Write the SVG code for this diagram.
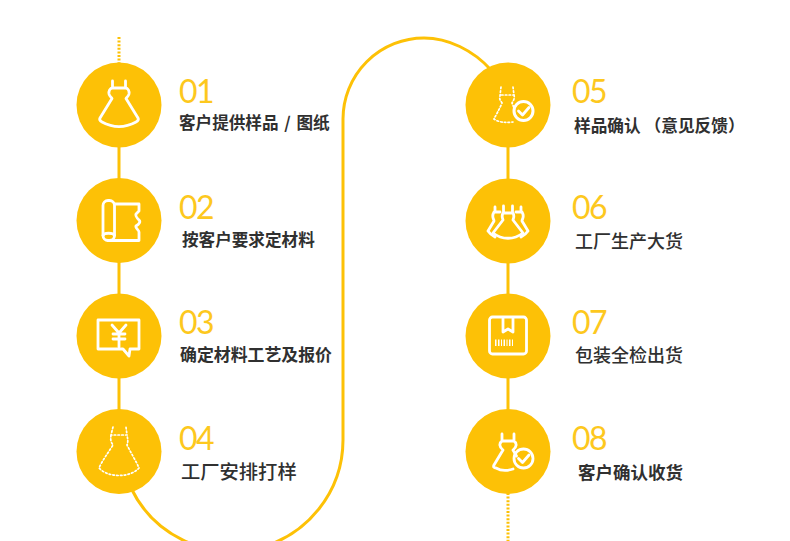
<svg xmlns="http://www.w3.org/2000/svg" width="790" height="541" viewBox="0 0 790 541">
<style>
.c{fill:#fdc106}
.w{fill:none;stroke:#fff;stroke-width:2.800;stroke-linejoin:round;stroke-linecap:round}
.d{fill:none;stroke:#fff;stroke-width:1.700;stroke-dasharray:1.600 2.200;stroke-linecap:round}
.n{font-family:"Lato","Open Sans",sans-serif;font-weight:400;font-size:32px;letter-spacing:-1.500px;fill:#fdc81e}
.t{font-family:"Noto Sans CJK SC",sans-serif;font-weight:700;font-size:16.600px;fill:#303030}
.m{font-weight:500}
.l{fill:none;stroke:#fdc106;stroke-width:3}
</style>
<rect width="790" height="541" fill="#fff"/>
<g id="connectors">
<path class="l" stroke-dasharray="2 1.600" d="M119 37V64"/>
<path class="l" d="M119 146V180M119 262V296M119 377V411"/>
<path class="l" d="M131 488A111.500 111.500 0 0 0 343 440V119A81 81 0 0 1 424 38C448 38 473 50 491 70"/>
<path class="l" d="M508 146V180M508 262V296M508 377V411"/>
<path class="l" stroke-dasharray="2 1.600" d="M508 493V541"/>
</g>
<g id="node1"><circle class="c" cx="119" cy="105" r="42.500"/>
<path class="w" d="M112.500 81V88M125.500 81V88M112.500 88H125.500C128 88 129.500 91 129 94C128.500 96 127 97 126 98.500L138 118C139 120 138 121 136 122C125 128 113 128 102 122C100 121 99 120 100 118L112 98.500C111 97 109.500 96 109 94C108.500 91 110 88 112.500 88Z"/>
<text class="n" x="179" y="103">01</text><text class="t" x="179" y="129" style="word-spacing:2px">客户提供样品 / 图纸</text></g>
<g id="node2"><circle class="c" cx="119" cy="220.500" r="42.500"/>
<rect class="w" x="103" y="200.500" width="11.500" height="40" rx="5"/>
<path class="w" d="M103 235.500C104 232.500 113 232.500 114.500 235.500M114.500 204H139V211L136 214C135 216 137 218 139 220C141 222 139 224 136 226C135 228 139 230 139 232V240.500H108"/>
<text class="n" x="179" y="219">02</text><text class="t" x="182" y="246">按客户要求定材料</text></g>
<g id="node3"><circle class="c" cx="119" cy="336" r="42.500"/>
<path class="w" d="M98 320H139V349H130L129 356L123 349H98Z"/>
<path class="w" stroke-width="2.200" d="M112 325L119 333L126 325M119 333V347M113 334H125M113 339H125"/>
<text class="n" x="179" y="334">03</text><text class="t" x="180" y="361" style="font-size:16.900px">确定材料工艺及报价</text></g>
<g id="node4"><circle class="c" cx="119" cy="451.500" r="42.500"/>
<path class="d" d="M113 427L111 435H127L126 427M111 435C110 442 112 443 113 445C108 453 102 461 99 468C108 478 130 478 139 468C136 461 131 453 127 445C128 443 128 440 127 435"/>
<text class="n" x="179" y="450">04</text><text class="t m" x="181" y="479" style="font-size:19.300px">工厂安排打样</text></g>
<g id="node5"><circle class="c" cx="508" cy="105" r="42.500"/>
<path class="d" d="M501 87L500 96C499 100 501 101 502 103C499 110 496 115 494 119C498 122 505 123 513 122M513 87L514 95H500M514 95C515 99 513 101 512 103L514 108"/>
<circle cx="523.500" cy="111" r="9.500" fill="none" stroke="#fff" stroke-width="3"/><path class="w" d="M518.500 111L522.500 115L529 107.500"/>
<text class="n" x="572" y="103">05</text><text class="t" x="574" y="132" style="font-size:16.700px">样品确认 （意见反馈）</text></g>
<g id="node6"><circle class="c" cx="508" cy="221" r="42.500"/>
<path class="w" d="M503.500 206V213M512.500 206V213M503 213H513C515 217 513 219 513 220L523 233C514 240 502 240 493 233L503 220C503 219 501 217 503 213Z"/>
<path class="w" d="M495 207V212M500 212H494C491 217 494 219 494 221L488 231C490 234 491 235 495 237M521 207V212M516 212H522C525 217 522 219 522 221L528 231C526 234 525 235 521 237"/>
<text class="n" x="572" y="219">06</text><text class="t m" x="575" y="248" style="font-size:18px">工厂生产大货</text></g>
<g id="node7"><circle class="c" cx="508" cy="336" r="42.500"/>
<rect class="w" x="489.500" y="317" width="37" height="37" rx="3"/>
<path class="w" stroke-width="2.200" d="M503 318V332L508 329L513 332V318"/>
<path d="M495 346h1.500v-6.500h-1.500zM498 346h1.500v-6.500h-1.500zM501 346h1v-6.500h-1zM503.500 346h1.500v-6.500h-1.500zM506.500 346h1v-6.500h-1zM509 346h1.500v-6.500h-1.500zM512 346h1v-6.500h-1z" fill="#fff"/>
<text class="n" x="572" y="334">07</text><text class="t m" x="575" y="362" style="font-size:18px">包装全检出货</text></g>
<g id="node8"><circle class="c" cx="508" cy="451.500" r="42.500"/>
<path class="w" d="M502 434V441M514 434V441M502 441H514C517 443 517 447 513 450L516.500 456M502 441C499 443 499 447 503 450L494 465C493 467 494 468 496 468C501 471 507 471 513 469"/>
<circle cx="523.500" cy="458.500" r="9.500" fill="none" stroke="#fff" stroke-width="2.800"/><path class="w" d="M518.500 458.500L522.500 462.500L529 455"/>
<text class="n" x="572" y="450">08</text><text class="t" x="578" y="479" style="font-size:17.500px">客户确认收货</text></g>
</svg>
